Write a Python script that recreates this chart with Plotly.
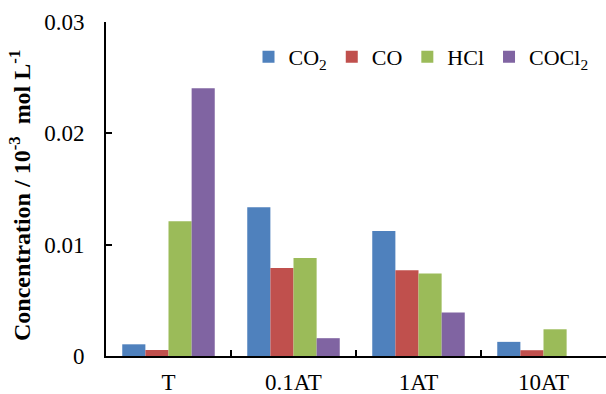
import plotly.graph_objects as go

categories = ["T", "0.1AT", "1AT", "10AT"]
series_names = ["CO<sub>2</sub>", "CO", "HCl", "COCl<sub>2</sub>"]
co2 = [0.00105, 0.01336, 0.01122, 0.00127]
co = [0.00054, 0.0079, 0.0077, 0.00052]
hcl = [0.0121, 0.0088, 0.0074, 0.0024]
cocl2 = [0.02405, 0.0016, 0.0039, 0.0]
colors = ["#4F81BD", "#C0504D", "#9BBB59", "#8064A2"]

font_family = "Liberation Serif"

fig = go.Figure()
for name, vals, col in zip(series_names, [co2, co, hcl, cocl2], colors):
    fig.add_trace(go.Bar(x=categories, y=vals, name=name,
                         marker=dict(color=col, line=dict(width=0))))

fig.update_layout(
    width=606, height=394,
    margin=dict(l=106, r=0, t=22, b=38, autoexpand=False),
    paper_bgcolor="white", plot_bgcolor="white",
    barmode="group", bargap=0.26, bargroupgap=0,
    font=dict(family=font_family, size=23, color="black"),
    legend=dict(orientation="h", x=0.285, y=0.895, xanchor="left", yanchor="middle",
                font=dict(size=22, family=font_family), bgcolor="rgba(0,0,0,0)",
                itemwidth=30, tracegroupgap=0),
    showlegend=True,
)
fig.update_xaxes(
    showline=True, linecolor="black", linewidth=2,
    ticks="inside", tickson="boundaries", ticklen=6, tickwidth=2, tickcolor="black",
    tickfont=dict(size=23, family=font_family), ticklabelstandoff=4,
    showgrid=False, zeroline=False, automargin=False,
)
fig.update_yaxes(
    range=[0, 0.03], dtick=0.01, tick0=0,
    showline=True, linecolor="black", linewidth=2,
    ticks="inside", ticklen=6, tickwidth=1.5, tickcolor="black",
    tickfont=dict(size=23, family=font_family), ticklabelstandoff=15,
    showgrid=False, zeroline=False, automargin=False,
)
fig.add_annotation(
    text="<b>Concentration / 10<sup>-3</sup>  mol L<sup>-1</sup></b>",
    xref="paper", yref="paper", x=-0.172, y=0.479, xanchor="center", yanchor="middle",
    textangle=-90, showarrow=False, font=dict(size=24, family=font_family),
)

fig.write_html("out.html")
